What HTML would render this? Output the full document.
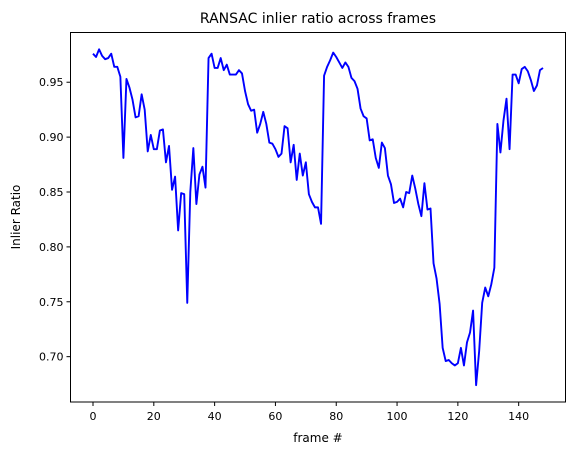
<!DOCTYPE html>
<html><head><meta charset="utf-8"><style>
body{margin:0;background:#fff;}
svg text{font-family:"DejaVu Sans","Liberation Sans",sans-serif;fill:#000;}
</style></head><body>
<svg id="chart" width="576" height="455" viewBox="0 0 576 455" xmlns="http://www.w3.org/2000/svg">
<rect width="576" height="455" fill="#fff"/>
<text x="318" y="23" font-size="14" text-anchor="middle">RANSAC inlier ratio across frames</text>
<text x="318" y="442" font-size="12" text-anchor="middle">frame #</text>
<text transform="translate(20,217) rotate(-90)" font-size="12" text-anchor="middle">Inlier Ratio</text>
<g id="xticks"></g>
<g id="yticks"></g>
<path id="line" fill="none" stroke="#0000ff" stroke-width="1.9" stroke-linejoin="round"/>
<rect x="70.5" y="32.5" width="495" height="369.5" fill="none" stroke="#000" stroke-width="1"/>
</svg>
<script>
const ratios = [0.976,0.973,0.980,0.974,0.971,0.972,0.976,0.964,0.964,0.955,0.881,0.953,0.945,0.934,0.918,0.919,0.939,0.925,0.887,0.902,0.889,0.889,0.906,0.907,0.877,0.892,0.852,0.864,0.815,0.849,0.848,0.749,0.850,0.890,0.839,0.866,0.873,0.854,0.972,0.976,0.963,0.963,0.972,0.961,0.966,0.957,0.957,0.957,0.961,0.958,0.942,0.930,0.924,0.925,0.904,0.912,0.923,0.912,0.895,0.894,0.889,0.882,0.885,0.910,0.908,0.877,0.893,0.861,0.885,0.865,0.877,0.848,0.841,0.836,0.836,0.821,0.956,0.964,0.970,0.977,0.973,0.968,0.963,0.968,0.964,0.954,0.951,0.944,0.926,0.919,0.917,0.897,0.898,0.881,0.872,0.895,0.890,0.865,0.857,0.840,0.841,0.844,0.836,0.850,0.849,0.865,0.853,0.839,0.828,0.858,0.834,0.835,0.785,0.771,0.748,0.708,0.696,0.697,0.694,0.692,0.694,0.708,0.692,0.713,0.722,0.742,0.674,0.705,0.749,0.763,0.755,0.766,0.781,0.912,0.886,0.915,0.935,0.889,0.957,0.957,0.949,0.962,0.964,0.960,0.952,0.942,0.947,0.961,0.963];
const xTickValues = [0,20,40,60,80,100,120,140];
const yTickValues = [0.70,0.75,0.80,0.85,0.90,0.95];
const yTickLabels = ["0.70","0.75","0.80","0.85","0.90","0.95"];

const NS="http://www.w3.org/2000/svg";
const L=70.5,R=565.5,T=32.5,B=402;
const n=ratios.length;
const xmin=-0.05*(n-1), xmax=(n-1)*1.05;
const ymn=Math.min(...ratios), ymx=Math.max(...ratios), pad=(ymx-ymn)*0.05;
const ymin=ymn-pad, ymax=ymx+pad;
const xs=v=>L+(v-xmin)/(xmax-xmin)*(R-L);
const ys=v=>B-(v-ymin)/(ymax-ymin)*(B-T);

let d="";
ratios.forEach((v,i)=>{d+=(i?"L":"M")+xs(i).toFixed(2)+","+ys(v).toFixed(2);});
document.getElementById("line").setAttribute("d",d);

const gx=document.getElementById("xticks");
xTickValues.forEach(v=>{
  const x=xs(v);
  const ln=document.createElementNS(NS,"line");
  ln.setAttribute("x1",x);ln.setAttribute("x2",x);ln.setAttribute("y1",B);ln.setAttribute("y2",B+4);
  ln.setAttribute("stroke","#000");
  
  
  gx.appendChild(ln);
  const t=document.createElementNS(NS,"text");
  t.setAttribute("x",x);t.setAttribute("y",B+18);t.setAttribute("font-size","11");t.setAttribute("text-anchor","middle");
  t.textContent=String(v);
  
  
  gx.appendChild(t);
});
const gy=document.getElementById("yticks");
yTickValues.forEach((v,i)=>{
  const y=ys(v);
  const ln=document.createElementNS(NS,"line");
  ln.setAttribute("x1",L-4);ln.setAttribute("x2",L);ln.setAttribute("y1",y);ln.setAttribute("y2",y);
  ln.setAttribute("stroke","#000");
  
  
  gy.appendChild(ln);
  const t=document.createElementNS(NS,"text");
  t.setAttribute("x",L-7);t.setAttribute("y",y+4);t.setAttribute("font-size","11");t.setAttribute("text-anchor","end");
  t.textContent=yTickLabels[i];
  
  
  gy.appendChild(t);
});
</script>
</body></html>
